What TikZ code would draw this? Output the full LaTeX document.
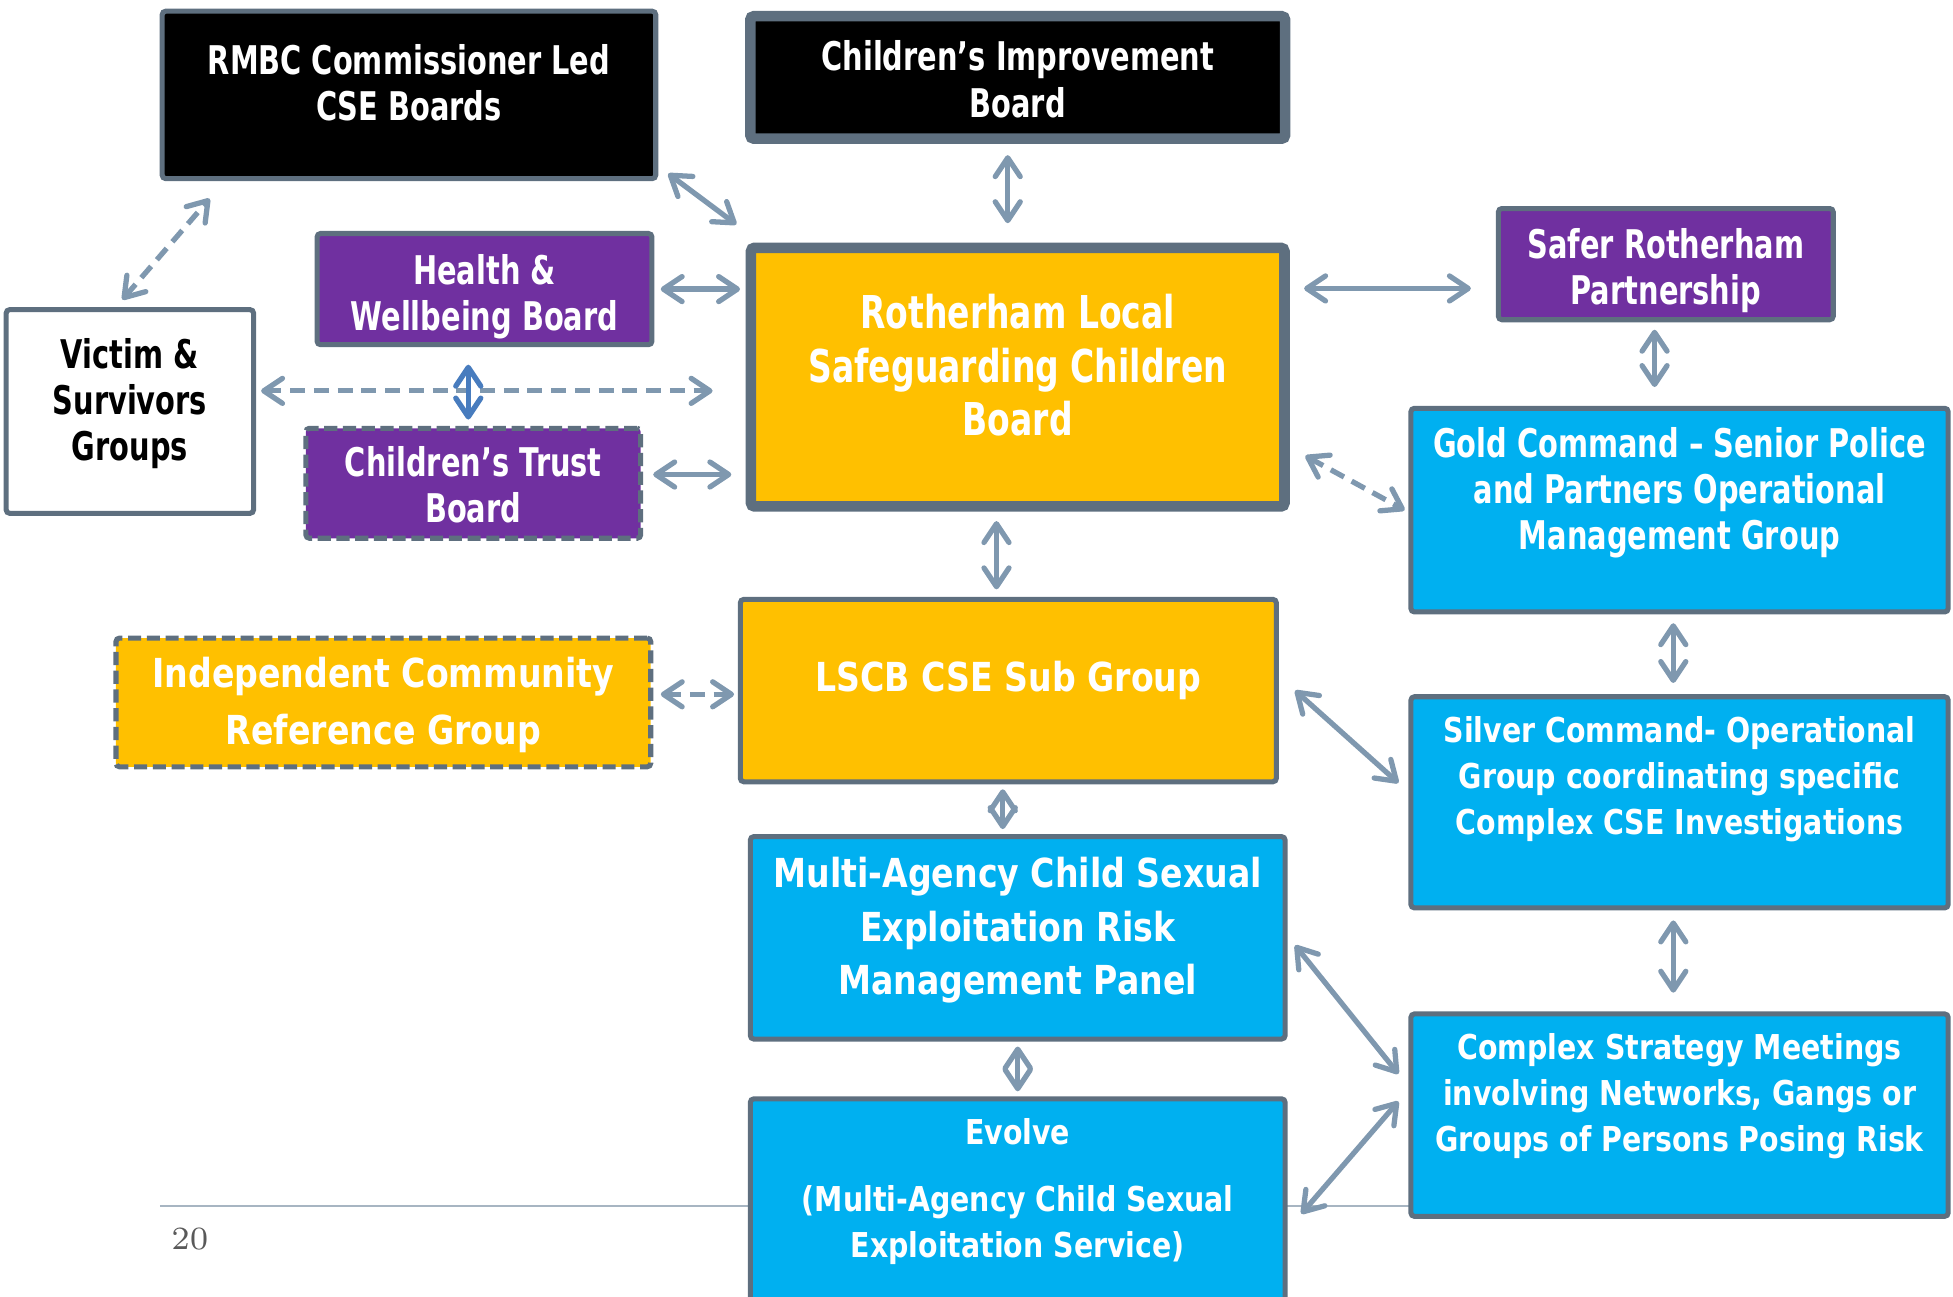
\documentclass[tikz,border=0pt]{standalone}
\usepackage{fontspec}
\usetikzlibrary{arrows.meta}
\newfontfamily\narrowfont{DejaVu Sans}[FakeStretch=0.73]
\newfontfamily\widefont{DejaVu Sans}[FakeStretch=0.83]
\definecolor{edgegray}{HTML}{5E6F7F}
\definecolor{linkgray}{HTML}{7F98AF}
\definecolor{linkblue}{HTML}{487CBE}
\definecolor{boardpurple}{HTML}{7030A0}
\definecolor{boardamber}{HTML}{FFC000}
\definecolor{boardcyan}{HTML}{00B0F0}
\definecolor{footgray}{HTML}{A7B5C2}
\tikzset{
  board/.style={draw=edgegray, line width=1.15pt, rounded corners=0.8pt, inner sep=0pt},
  heavyboard/.style={board, line width=2.4pt},
  dashboard/.style={board, dash pattern=on 1.05mm off 0.45mm},
  narrowtext/.style={text=white, align=center, inner sep=0pt, font=\narrowfont\bfseries\fontsize{9pt}{10.5pt}\selectfont},
  bignarrowtext/.style={narrowtext, font=\narrowfont\bfseries\fontsize{10.3pt}{12.2pt}\selectfont},
  widetext/.style={text=white, align=center, inner sep=0pt, font=\widefont\bfseries\fontsize{7.8pt}{10.5pt}\selectfont},
  bigwidetext/.style={widetext, font=\widefont\bfseries\fontsize{9.1pt}{12.2pt}\selectfont},
  barb/.tip={Straight Barb[length=1.5mm,width=2mm,round]},
  link/.style={draw=linkgray, line width=1.2pt, barb-barb},
  dashlink/.style={link, dash pattern=on 1.2mm off 0.7mm}
}
\begin{document}
\begin{tikzpicture}
  [x=0.01cm, y=-0.01cm]
  \useasboundingbox (0,0) rectangle (1564,1038);
  \clip (0,0) rectangle (1564,1038);

  \draw[footgray, line width=0.5pt] (128,966) -- (1128,966);
  \node[text=black!65, font=\fontsize{7.4pt}{9pt}\selectfont] (pagenum) at (152,992) {20};

  \node[board, fill=black, minimum width=3.95cm, minimum height=1.34cm,
    label={[narrowtext, yshift=0.095cm]center:{RMBC Commissioner Led\\CSE Boards}}] (rmbc) at (327.5,76) {};
  \node[heavyboard, fill=black, minimum width=4.28cm, minimum height=0.98cm,
    label={[narrowtext, yshift=-0.015cm]center:{Children’s Improvement\\Board}}] (cib) at (815,62) {};
  \node[board, fill=boardpurple, minimum width=2.68cm, minimum height=0.89cm,
    label={[narrowtext, yshift=-0.06cm]center:{Health \&\\Wellbeing Board}}] (hwb) at (388,231.5) {};
  \node[board, fill=white, minimum width=1.98cm, minimum height=1.63cm,
    label={[narrowtext, text=black, yshift=0.065cm]center:{Victim \&\\Survivors\\Groups}}] (victim) at (104,329.5) {};
  \node[dashboard, fill=boardpurple, minimum width=2.68cm, minimum height=0.88cm,
    label={[narrowtext, yshift=-0.01cm]center:{Children’s Trust\\Board}}] (ctb) at (379,387) {};
  \node[heavyboard, fill=boardamber, minimum width=4.27cm, minimum height=2.07cm,
    label={[bignarrowtext, yshift=0.095cm]center:{Rotherham Local\\Safeguarding Children\\Board}}] (lscb) at (815,302) {};
  \node[board, fill=boardpurple, minimum width=2.68cm, minimum height=0.89cm,
    label={[narrowtext, yshift=-0.05cm]center:{Safer Rotherham\\Partnership}}] (safer) at (1334,211.5) {};
  \node[board, fill=boardcyan, minimum width=4.30cm, minimum height=1.63cm,
    label={[narrowtext, yshift=0.14cm]center:{Gold Command – Senior Police\\and Partners Operational\\Management Group}}] (gold) at (1345,408.5) {};
  \node[dashboard, fill=boardamber, minimum width=4.28cm, minimum height=1.03cm,
    label={[bigwidetext, yshift=-0.02cm]center:{Independent Community\\[0.6pt]Reference Group}}] (icrg) at (307,562.5) {};
  \node[board, fill=boardamber, minimum width=4.29cm, minimum height=1.46cm,
    label={[bigwidetext, yshift=0.08cm]center:{LSCB CSE Sub Group}}] (sub) at (807.5,553) {};
  \node[board, fill=boardcyan, minimum width=4.30cm, minimum height=1.69cm,
    label={[widetext, yshift=0.185cm]center:{Silver Command- Operational\\Group coordinating specific\\Complex CSE Investigations}}] (silver) at (1345,642.5) {};
  \node[board, fill=boardcyan, minimum width=4.28cm, minimum height=1.62cm,
    label={[bigwidetext, yshift=0.06cm]center:{Multi-Agency Child Sexual\\Exploitation Risk\\Management Panel}}] (macse) at (815,751) {};
  \node[board, fill=boardcyan, minimum width=4.30cm, minimum height=1.62cm,
    label={[widetext, yshift=0.15cm]center:{Complex Strategy Meetings\\involving Networks, Gangs or\\Groups of Persons Posing Risk}}] (complex) at (1345,893) {};
  \node[board, fill=boardcyan, minimum width=4.28cm, minimum height=1.78cm,
    label={[widetext, anchor=north, yshift=-0.17cm]north:{Evolve\\[0.17cm](Multi-Agency Child Sexual\\Exploitation Service)}}] (evolve) at (815,969) {};

  \draw[link] ([xshift=0.08cm,yshift=0.06cm]rmbc.south east) -- ([xshift=-0.075cm,yshift=0.145cm]lscb.north west);
  \draw[link, shorten <=0.09cm, shorten >=0.155cm] ([xshift=-0.08cm]cib.south) -- ([xshift=-0.08cm]lscb.north);
  \draw[link, shorten <=0.05cm, shorten >=0.045cm] (hwb.east) -- (hwb.east -| lscb.west);
  \draw[dashlink] ([xshift=-0.06cm,yshift=0.06cm]victim.north) -- ([xshift=-1.595cm,yshift=-0.14cm]rmbc.south);
  \draw[dashlink, shorten <=0.04cm, shorten >=0.265cm] ([yshift=0.165cm]victim.east) -- ([yshift=0.165cm]victim.east -| lscb.west);
  \draw[link, linkblue, shorten <=0.14cm, shorten >=0.05cm] ([xshift=-0.13cm]hwb.south) -- ([xshift=-0.13cm]hwb.south |- ctb.north);
  \draw[link, shorten <=0.08cm, shorten >=0.115cm] ([yshift=0.07cm]ctb.east) -- ([yshift=0.07cm]ctb.east -| lscb.west);
  \draw[link, shorten <=0.115cm, shorten >=0.2cm] ([yshift=0.71cm]lscb.east) -- ([yshift=0.71cm]lscb.east -| safer.west);
  \draw[link, shorten <=0.06cm, shorten >=0.15cm] ([xshift=-0.09cm]safer.south) -- ([xshift=-0.09cm]safer.south |- gold.north);
  \draw[dashlink] ([xshift=0.125cm,yshift=-0.63cm]lscb.east) -- ([xshift=-0.03cm]gold.west);
  \draw[link, shorten <=0.075cm, shorten >=0.06cm] ([xshift=-0.17cm]lscb.south) -- ([xshift=-0.17cm]lscb.south |- sub.north);
  \draw[dashlink, shorten <=0.06cm, shorten >=0.03cm] ([yshift=0.065cm]icrg.east) -- ([yshift=0.065cm]icrg.east -| sub.west);
  \draw[link, shorten <=0.07cm, shorten >=0.09cm] ([xshift=-0.05cm]gold.south) -- ([xshift=-0.05cm]gold.south |- silver.north);
  \draw[link] ([xshift=0.13cm]sub.east) -- ([xshift=-0.08cm,yshift=0.155cm]silver.west);
  \draw[link, shorten <=0.04cm, shorten >=0.04cm] ([xshift=-0.045cm]sub.south) -- ([xshift=-0.045cm]sub.south |- macse.north);
  \draw[link, shorten <=0.04cm, shorten >=0.04cm] (macse.south) -- (evolve.north);
  \draw[link, shorten <=0.08cm, shorten >=0.15cm] ([xshift=-0.05cm]silver.south) -- ([xshift=-0.05cm]silver.south |- complex.north);
  \draw[link] ([xshift=0.06cm,yshift=-0.06cm]macse.east) -- ([xshift=-0.08cm,yshift=0.33cm]complex.west);
  \draw[link] ([xshift=0.11cm,yshift=-0.03cm]evolve.east) -- ([xshift=-0.08cm,yshift=0.11cm]complex.west);
\end{tikzpicture}
\end{document}
